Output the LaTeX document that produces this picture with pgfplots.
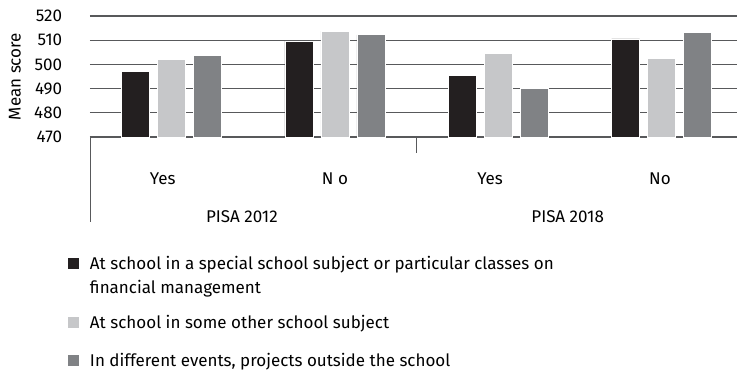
\documentclass[border=0pt]{standalone}
\usepackage{fontspec}
\setmainfont{Fira Sans}
\usepackage{pgfplots}
\pgfplotsset{compat=1.18}
\definecolor{barA}{HTML}{231F20}
\definecolor{barB}{HTML}{C6C7C9}
\definecolor{barC}{HTML}{808285}
\definecolor{gridc}{HTML}{58595B}

\begin{document}
\fontsize{17bp}{24bp}\selectfont
\begin{tikzpicture}
\begin{axis}[
  scale only axis, width=647bp, height=121bp,
  xmin=-0.5, xmax=3.462, ymin=470, ymax=520,
  ybar, bar width=28bp,
  clip mode=individual,
  ytick={470,480,...,520},
  ymajorgrids, grid style={gridc, line width=1.1bp},
  axis x line*=bottom, axis y line*=left,
  x axis line style={gridc, line width=1.1bp, -},
  y axis line style={draw=none},
  major tick length=0pt,
  xtick={-0.055,1.0,1.95,2.99},
  xticklabels={Yes,N o,Yes,No},
  xticklabel style={anchor=center, yshift=-42bp},
  yticklabel style={anchor=east, xshift=-22bp},
  tick label style={font=\fontsize{17bp}{20bp}\selectfont},
  /pgf/number format/assume math mode=true,
  ylabel={Mean score},
  ylabel style={at={(axis description cs:-0.116,0.5)}, anchor=center, font=\fontsize{17bp}{20bp}\selectfont},
  legend image code/.code={\fill[#1] (0bp,-0.5bp) rectangle (12bp,11.5bp);},
  legend style={draw=none, fill=none, inner sep=0pt,
    at={(axis description cs:0,0)}, anchor=north west,
    xshift=-23bp, yshift=-119bp,
    row sep=0pt, column sep=10bp,
    cells={anchor=base west},
    nodes={inner sep=0pt, text height=13bp, font=\fontsize{17bp}{24bp}\selectfont}},
]
% financial management taught in a dedicated subject or class
\addplot[fill=barA, draw=white, line width=0.8bp, bar shift=-36bp]
  coordinates {(0,497.2) (1,509.6) (2,495.4) (3,510.5)};
\addlegendentry[text depth=11bp]{At school in a special school subject or particular classes on}
\addlegendimage{empty legend}
\addlegendentry[text depth=22bp]{financial management}
% taught within another school subject
\addplot[fill=barB, draw=white, line width=0.8bp, bar shift=0bp]
  coordinates {(0,501.9) (1,513.8) (2,504.7) (3,502.4)};
\addlegendentry[text depth=25bp]{At school in some other school subject}
% events and projects outside school
\addplot[fill=barC, draw=white, line width=0.8bp, bar shift=36bp]
  coordinates {(0,503.6) (1,512.2) (2,489.9) (3,513.3)};
\addlegendentry[text depth=4bp]{In different events, projects outside the school}

% group separators and group captions below the axis
\draw[gridc, line width=0.9bp] (axis cs:-0.5,470) -- ([yshift=-85bp]axis cs:-0.5,470);
\draw[gridc, line width=0.9bp] (axis cs:1.5,470) -- ([yshift=-16bp]axis cs:1.5,470);
\node[anchor=center] at ([yshift=-80bp]axis cs:0.43,470) {PISA 2012};
\node[anchor=center] at ([yshift=-80bp]axis cs:2.425,470) {PISA 2018};
\coordinate (O) at (rel axis cs:0,0);
\end{axis}
\pgfresetboundingbox
\path (O) ++(-90bp,-235bp) rectangle ++(737bp,372bp);
\end{tikzpicture}
\end{document}
